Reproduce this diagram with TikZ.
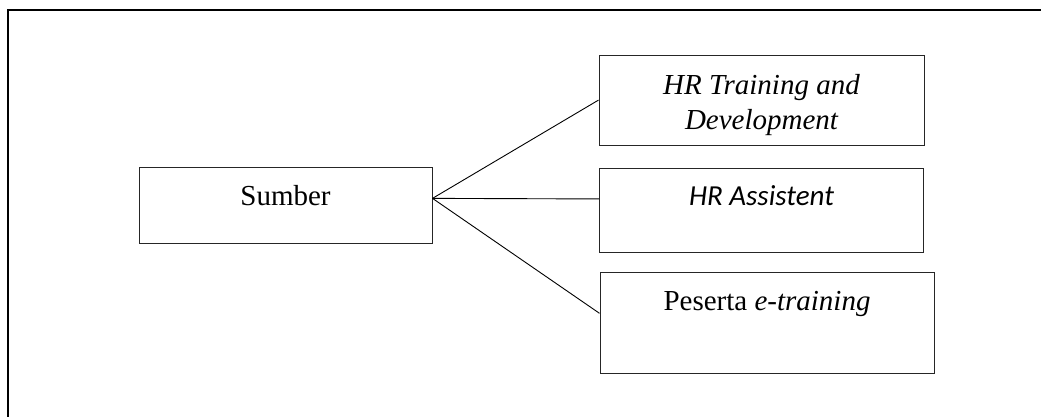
\documentclass[tikz,border=0pt]{standalone}
\usepackage{fontspec}
\setmainfont{Liberation Serif}
\newfontfamily\calib{Carlito}
\usetikzlibrary{calc}
\tikzset{
  box/.style={draw=black!85, line width=1pt, inner sep=0pt, rectangle},
  lbl/.style={inner sep=0pt, anchor=base, font=\fontsize{29}{35}\selectfont},
  conn/.style={draw=black, line width=0.9pt},
}
\begin{document}
\begin{tikzpicture}[x=1pt,y=-1pt]
\useasboundingbox (0,0) rectangle (1041,417);
\draw[line width=1.6pt] (8,417) -- (8,10) -- (1041,10);
% boxes
\node[box, minimum width=293pt, minimum height=76pt] (s) at (285.5,205.3) {};
\node[box, minimum width=325pt, minimum height=90pt] (t) at (761.5,101) {};
\node[box, minimum width=324pt, minimum height=84pt] (a) at (761.5,210) {};
\node[box, minimum width=334pt, minimum height=101pt] (p) at (767,322.5) {};
% labels
\node[lbl] (sl) at (285.5,205) {Sumber};
\node[lbl] (tl1) at (761.5,95) {\itshape HR Training and};
\node[lbl] (tl2) at (761.5,130) {\itshape Development};
\node[lbl] (al) at (761.5,205) {\calib\itshape HR Assistent};
\node[lbl] (pl) at (767,310) {Peserta \itshape e-training};
% connectors
\coordinate (o) at ($(s.north east)!0.41!(s.south east)$);
\draw[conn] (o) -- ($(t.north west)!0.49!(t.south west)$);
\draw[conn] (o) -- ($(a.north west)!0.37!(a.south west)$);
\draw[conn] (o) -- ($(p.north west)!0.41!(p.south west)$);
\end{tikzpicture}
\end{document}
